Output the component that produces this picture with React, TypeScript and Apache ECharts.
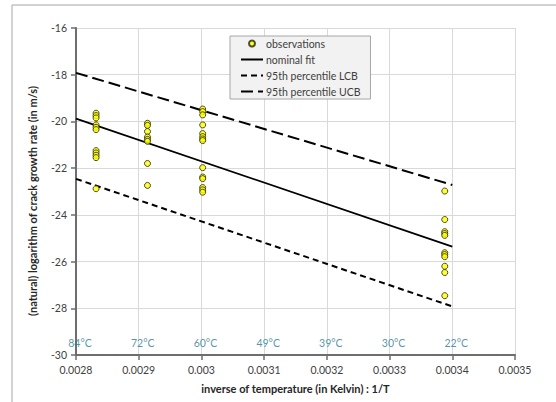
import React, { useEffect, useRef } from "react";
import * as echarts from "echarts";

const col1X = 0.002832;
const col1Y = [-19.65, -19.75, -19.85, -20.15, -20.25, -20.35, -21.25, -21.35, -21.45, -21.55, -22.88];
const col2X = 0.002914;
const col2Y = [-20.08, -20.17, -20.43, -20.67, -20.77, -20.85, -21.8, -22.74];
const col3X = 0.003002;
const col3Y = [-19.47, -19.58, -19.72, -20.15, -20.52, -20.65, -20.75, -20.82, -21.98, -22.38, -22.45, -22.83, -22.93, -23.03];
const col4X = 0.003388;
const col4Y = [-22.98, -24.2, -24.72, -24.8, -24.88, -25.62, -25.7, -25.79, -26.2, -26.47, -27.46];

const fitX = [0.0028, 0.0034];
const nominalY = [-19.88, -25.36];
const lcbY = [-22.46, -27.92];
const ucbY = [-17.92, -22.72];

const tempLabels = ["84°C", "72°C", "60°C", "49°C", "39°C", "30°C", "22°C"];
const tempX = [0.0028, 0.0029, 0.003, 0.0031, 0.0032, 0.0033, 0.0034];
const tempLabelY = -29.5;

const FONT = "Lato";

export default function App() {
  const ref = useRef<HTMLDivElement>(null);
  useEffect(() => {
    if (!ref.current) return;
    const chart = echarts.init(ref.current, null, { renderer: "svg" });
    const obs: number[][] = [];
    col1Y.forEach((y) => obs.push([col1X, y]));
    col2Y.forEach((y) => obs.push([col2X, y]));
    col3Y.forEach((y) => obs.push([col3X, y]));
    col4Y.forEach((y) => obs.push([col4X, y]));
    const mk = (ys: number[]) => fitX.map((x, i) => [x, ys[i]]);
    const hiddenSym = { color: "rgba(0,0,0,0)", borderWidth: 0 };
    chart.setOption({
      animation: false,
      backgroundColor: "#ffffff",
      textStyle: { fontFamily: FONT },
      grid: { left: 76, right: 41, top: 28, bottom: 47 },
      xAxis: {
        type: "value",
        min: 0.0028,
        max: 0.0035,
        interval: 0.0001,
        axisLine: { onZero: false, lineStyle: { color: "#6e6e6e", width: 2 } },
        axisTick: { show: true, length: 5, lineStyle: { color: "#6e6e6e", width: 1.5 } },
        axisLabel: {
          color: "#404040",
          fontSize: 10.5,
          fontFamily: FONT,
          margin: 9,
          formatter: (v: number) => String(+v.toFixed(4)),
        },
        splitLine: { show: true, lineStyle: { color: "#d9d9d9", width: 1 } },
      },
      yAxis: {
        type: "value",
        min: -30,
        max: -16,
        interval: 2,
        axisLine: { show: true, onZero: false, lineStyle: { color: "#6e6e6e", width: 2 } },
        axisTick: { show: true, length: 5, lineStyle: { color: "#6e6e6e", width: 1.5 } },
        axisLabel: { color: "#404040", fontSize: 10.5, fontFamily: FONT, margin: 9 },
        splitLine: { show: true, lineStyle: { color: "#d9d9d9", width: 1 } },
      },
      legend: {
        orient: "vertical",
        left: 230,
        top: 36,
        backgroundColor: "#f2f2f2",
        borderColor: "#a6a6a6",
        borderWidth: 1,
        borderRadius: 0,
        padding: [2, 10, 2, 10],
        itemWidth: 22,
        itemHeight: 6,
        itemGap: 5,
        textStyle: { color: "#404040", fontSize: 10.5, fontFamily: FONT, padding: [0, 0, 0, -2] },
        data: ["observations", "nominal fit", "95th percentile LCB", "95th percentile UCB"],
      },
      graphic: [
        {
          type: "rect",
          shape: { x: 12, y: 5, width: 700, height: 600 },
          style: { fill: "none", stroke: "#a6a6a6", lineWidth: 1 },
          silent: true,
          z: -10,
        },
        {
          type: "text",
          x: 32,
          y: 201,
          rotation: Math.PI / 2,
          style: {
            text: "(natural) logarithm of crack growth rate (in m/s)",
            fill: "#262626",
            font: `bold 11px ${FONT}`,
            align: "center",
            verticalAlign: "middle",
          },
        },
        {
          type: "text",
          x: 295.5,
          y: 388,
          style: {
            text: "inverse of temperature (in Kelvin) : 1/T",
            fill: "#262626",
            font: `bold 11px ${FONT}`,
            align: "center",
            verticalAlign: "middle",
          },
        },
      ],
      series: [
        {
          name: "observations",
          type: "scatter",
          data: obs,
          symbol: "circle",
          symbolSize: 6,
          itemStyle: { color: "#ffff00", borderColor: "#262600", borderWidth: 1 },
          z: 5,
        },
        {
          name: "nominal fit",
          type: "line",
          data: mk(nominalY),
          symbol: "none",
          lineStyle: { color: "#000000", width: 1.75, type: "solid" },
          itemStyle: hiddenSym,
        },
        {
          name: "95th percentile LCB",
          type: "line",
          data: mk(lcbY),
          symbol: "none",
          lineStyle: { color: "#000000", width: 2, type: [6, 4] },
          itemStyle: hiddenSym,
        },
        {
          name: "95th percentile UCB",
          type: "line",
          data: mk(ucbY),
          symbol: "none",
          lineStyle: { color: "#000000", width: 2, type: [12, 5] },
          itemStyle: hiddenSym,
        },
        {
          name: "temps",
          type: "scatter",
          data: tempX.map((x, i) => ({ value: [x, tempLabelY], name: tempLabels[i] })),
          symbolSize: 1,
          itemStyle: { color: "rgba(0,0,0,0)" },
          label: {
            show: true,
            position: "inside",
            offset: [4, 0],
            formatter: (p: any) => p.name,
            color: "#2a7b93",
            fontSize: 10.5,
            fontFamily: FONT,
          },
          silent: true,
          z: 6,
        },
      ],
    });
    return () => chart.dispose();
  }, []);
  return (
    <div
      ref={ref}
      style={{ position: "fixed", left: 0, top: 0, width: 556, height: 402, background: "#fff" }}
    />
  );
}
